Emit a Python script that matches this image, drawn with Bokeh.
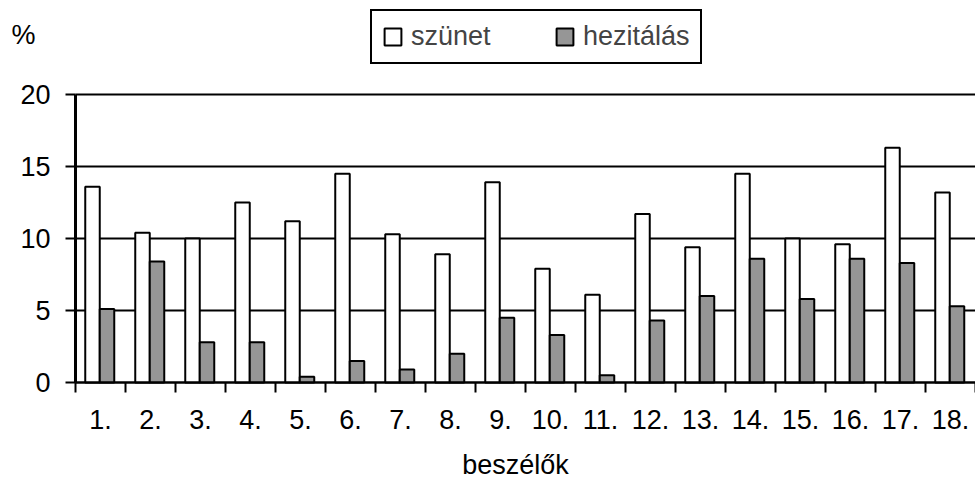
from bokeh.plotting import figure
from bokeh.models import FixedTicker, Legend, LegendItem, Label, Range1d, LinearAxis
from bokeh.embed import file_html
from bokeh.resources import INLINE
import numpy as np

speakers = ["1.", "2.", "3.", "4.", "5.", "6.", "7.", "8.", "9.", "10.",
            "11.", "12.", "13.", "14.", "15.", "16.", "17.", "18."]
szunet = [13.6, 10.4, 10.0, 12.5, 11.2, 14.5, 10.3, 8.9, 13.9, 7.9,
          6.1, 11.7, 9.4, 14.5, 10.0, 9.6, 16.3, 13.2]
hezitalas = [5.1, 8.4, 2.8, 2.8, 0.4, 1.5, 0.9, 2.0, 4.5, 3.3,
             0.5, 4.3, 6.0, 8.6, 5.8, 8.6, 8.3, 5.3]
y_ticks = [0, 5, 10, 15, 20]
series_names = ["szünet", "hezitálás"]
x_title = "beszélők"
y_title = "%"

FONT = "Liberation Sans"
FS = "27px"

n = len(speakers)
idx = np.arange(n)
y_max = 20

# The frame covers the whole canvas; axes are pinned at data 0.
p = figure(width=975, height=491,
           x_range=Range1d(-1.5, n), y_range=Range1d(-7.569, 26.528),
           x_axis_type=None, y_axis_type=None,
           output_backend="svg", toolbar_location=None,
           min_border_left=0, min_border_right=0, min_border_top=0, min_border_bottom=0)
p.outline_line_color = None
p.background_fill_color = "white"
p.border_fill_color = "white"
p.xgrid.visible = False
p.ygrid.visible = False

# horizontal grid lines between the axis and the right end
p.segment(x0=[0] * len(y_ticks), x1=[n] * len(y_ticks), y0=y_ticks, y1=y_ticks,
          line_color="black", line_width=2)

r1 = p.vbar(x=idx + 0.34, top=szunet, bottom=0, width=0.29,
            fill_color="white", line_color="black", line_width=2)
r2 = p.vbar(x=idx + 0.63, top=hezitalas, bottom=0, width=0.29,
            fill_color="#969696", line_color="black", line_width=2)

# y axis
yax = LinearAxis(fixed_location=0, bounds=(0, y_max),
                 ticker=FixedTicker(ticks=y_ticks, minor_ticks=[]))
yax.axis_line_width = 3
yax.axis_line_color = "black"
yax.major_tick_out = 10
yax.major_tick_in = 0
yax.major_tick_line_width = 2
yax.major_tick_line_color = "black"
yax.minor_tick_line_color = None
yax.major_label_text_font = FONT
yax.major_label_text_font_size = FS
yax.major_label_text_color = "black"
yax.major_label_standoff = 15
p.add_layout(yax, "left")

# x axis
xax = LinearAxis(fixed_location=0, bounds=(0, n),
                 ticker=FixedTicker(ticks=[float(i) + 0.5 for i in idx],
                                    minor_ticks=[float(i) for i in range(n + 1)]))
xax.major_label_overrides = {float(i) + 0.5: s for i, s in zip(idx, speakers)}
xax.axis_line_width = 2
xax.axis_line_color = "black"
xax.major_tick_line_color = None
xax.major_tick_out = 10
xax.major_tick_in = 0
xax.minor_tick_out = 10
xax.minor_tick_in = 0
xax.minor_tick_line_width = 2
xax.minor_tick_line_color = "black"
xax.major_label_text_font = FONT
xax.major_label_text_font_size = FS
xax.major_label_text_color = "black"
xax.major_label_standoff = 17
p.add_layout(xax, "below")

# x title
xt = Label(x=n / 2 - 0.2, y=-5.7, text=x_title, text_font=FONT, text_font_size=FS,
           text_align="center", text_baseline="middle", text_color="black")
p.add_layout(xt)

# "%" label
pct = Label(x=-1.28, y=24.1, text=y_title,
            text_font=FONT, text_font_size=FS, text_baseline="middle",
            text_align="left", text_color="black")
p.add_layout(pct)

# legend
legend = Legend(items=[LegendItem(label=series_names[0], renderers=[r1]),
                       LegendItem(label=series_names[1], renderers=[r2])],
                orientation="horizontal", location=(370, 427),
                border_line_color="black", border_line_width=2, border_line_alpha=1,
                padding=10, margin=0, spacing=50, label_width=93,
                glyph_width=21, glyph_height=21, label_standoff=8,
                label_text_font=FONT, label_text_font_size=FS,
                background_fill_color="white", background_fill_alpha=1)
p.add_layout(legend)

open("out.html", "w").write(file_html(p, INLINE))
